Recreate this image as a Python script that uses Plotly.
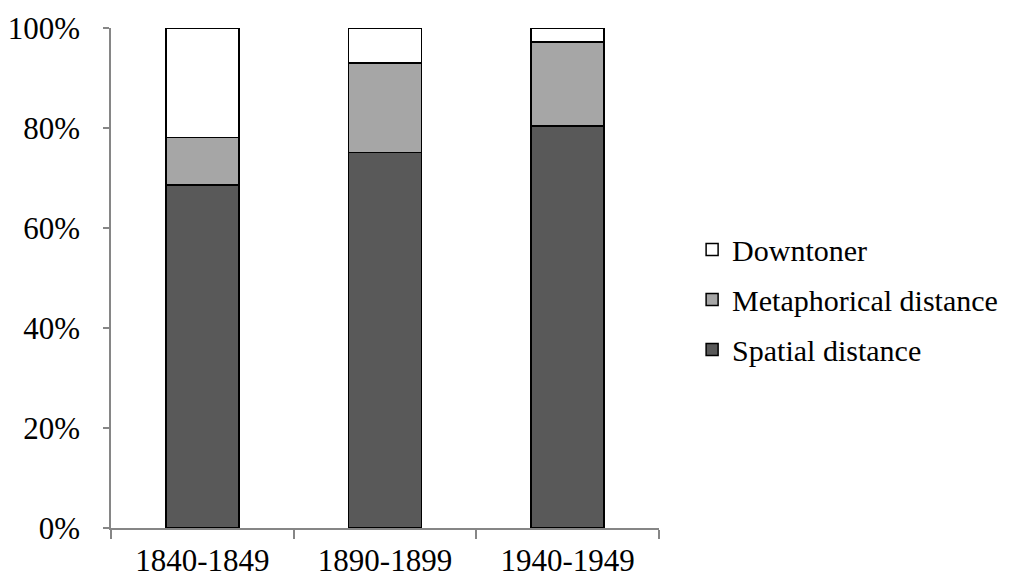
import plotly.graph_objects as go

categories = ["1840-1849", "1890-1899", "1940-1949"]
spatial = [68.6, 75.1, 80.4]
metaphorical = [9.5, 17.9, 16.8]
downtoner = [21.9, 7.0, 2.8]
y_ticks = [0, 20, 40, 60, 80, 100]

FONT = "Liberation Serif, Times New Roman, serif"
FS = 31
line = dict(color="black", width=1.5)

fig = go.Figure()
fig.add_trace(go.Bar(x=categories, y=spatial, name="Spatial distance",
                     marker=dict(color="#595959", line=line), legendgroup="a", legendrank=3))
fig.add_trace(go.Bar(x=categories, y=metaphorical, name="Metaphorical distance",
                     marker=dict(color="#a6a6a6", line=line), legendgroup="b", legendrank=2))
fig.add_trace(go.Bar(x=categories, y=downtoner, name="Downtoner",
                     marker=dict(color="white", line=line), legendgroup="c", legendrank=1))

fig.update_layout(
    width=1012, height=576,
    barmode="stack", bargap=0.6,
    paper_bgcolor="white", plot_bgcolor="white",
    font=dict(family=FONT, size=FS, color="black"),
    margin=dict(l=103, r=361, t=20, b=56, pad=0, autoexpand=False),
    showlegend=True,
    legend=dict(xref="container", yref="container", x=0.676, y=0.494,
                xanchor="left", yanchor="middle",
                traceorder="grouped", tracegroupgap=8,
                font=dict(family=FONT, size=30, color="black"),
                bgcolor="rgba(0,0,0,0)"),
    xaxis=dict(type="category", showline=True, linecolor="#868686", linewidth=1.5,
               ticks="outside", tickson="boundaries", ticklen=9, tickcolor="#868686",
               tickwidth=1.5, showgrid=False, automargin=False, ticklabelstandoff=4,
               tickfont=dict(family=FONT, size=FS)),
    yaxis=dict(range=[0, 100], tickvals=y_ticks, ticktext=[f"{v}%" for v in y_ticks],
               showline=True, linecolor="#868686", linewidth=1.5, ticks="outside",
               ticklen=6, tickcolor="#868686", tickwidth=1.5, showgrid=False,
               zeroline=False, automargin=False, ticklabelstandoff=17,
               tickfont=dict(family=FONT, size=FS)),
)

fig.write_html("out.html")
